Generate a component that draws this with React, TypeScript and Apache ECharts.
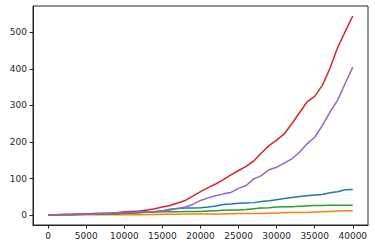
import React, { useEffect, useRef } from "react";
import * as echarts from "echarts";

const xs = [0,1000,2000,3000,4000,5000,6000,7000,8000,9000,10000,11000,12000,13000,14000,15000,16000,17000,18000,19000,20000,21000,22000,23000,24000,25000,26000,27000,28000,29000,30000,31000,32000,33000,34000,35000,36000,37000,38000,39000,40000];

const blue = [0,0.5,1,1,1.5,2,2,3,3,4,5,6,7,8,9,11,16,18,19,19,20,22,25,29,30,32,33,34,37,39,42,45,48,51,53,55,56,61,64,69,70];
const orange = [0,0,0,0.5,0.5,0.5,0.5,1,1,1,1,1,1,1.5,1.5,2,2,2,3,3,3,3,3,3,3.5,4,4,4,4.5,5,5,7,7,7,7,8,9,10,11,11.5,12];
const green = [0,0.5,1,1,1.5,2,2,2.5,3,3,5,5,6,8,8,9,9,9,10,10,10,11,12,13,14,14,15,17,19,20,22,23,23,24,25,26,26,27,27,27,27];
const red = [0,1,2,2,3,3,4,5,5,6,9,10,11,14,17,22,26,33,40,52,64,75,85,97,110,122,133,148,170,190,205,222,250,280,310,325,355,401,458,502,545];
const purple = [0,0.5,1,1.5,2,2.5,3,4,5,6,7,7,8,9,10,12,14,18,22,29,40,47,53,58,62,73,81,99,108,124,131,142,154,172,195,213,245,282,314,360,405];

const names = ["a", "b", "c", "d", "e"];
const colors = ["#1f77b4", "#ff7f0e", "#2ca02c", "#d62728", "#9467bd"];
const seriesValues = [blue, orange, green, red, purple];
const xTicks = [0, 5000, 10000, 15000, 20000, 25000, 30000, 35000, 40000];
const yTicks = [0, 100, 200, 300, 400, 500];

export default function App() {
  const ref = useRef<HTMLDivElement>(null);
  useEffect(() => {
    if (!ref.current) return;
    const chart = echarts.init(ref.current, null, { renderer: "svg" });
    const labelStyle = {
      color: "#262626", fontSize: 9, fontFamily: "DejaVu Sans",
      formatter: (v: number) => String(v),
    };
    chart.setOption({
      animation: false,
      backgroundColor: "#ffffff",
      grid: {
        left: 33, right: 7, top: 6, bottom: 23,
        show: true, borderColor: "#262626", borderWidth: 1, backgroundColor: "transparent",
      },
      xAxis: {
        type: "value", min: -2000, max: 42000,
        splitLine: { show: false },
        axisLine: { show: true, onZero: false, lineStyle: { color: "#262626", width: 1 } },
        axisTick: { show: true, length: 3.5, customValues: xTicks, lineStyle: { color: "#262626" } },
        axisLabel: { ...labelStyle, margin: 6, customValues: xTicks },
      },
      yAxis: {
        type: "value", min: -27.25, max: 572.25,
        splitLine: { show: false },
        axisLine: { show: true, onZero: false, lineStyle: { color: "#262626", width: 1 } },
        axisTick: { show: true, length: 3.5, customValues: yTicks, lineStyle: { color: "#262626" } },
        axisLabel: { ...labelStyle, margin: 6, customValues: yTicks },
      },
      series: seriesValues.map((vals, i) => ({
        type: "line",
        name: names[i],
        data: xs.map((x, j) => [x, vals[j]]),
        showSymbol: false,
        lineStyle: { color: colors[i], width: 1.5 },
        itemStyle: { color: colors[i] },
      })),
    });
    return () => chart.dispose();
  }, []);
  return <div ref={ref} style={{ position: "fixed", left: 0, top: 0, width: 375, height: 248 }} />;
}
